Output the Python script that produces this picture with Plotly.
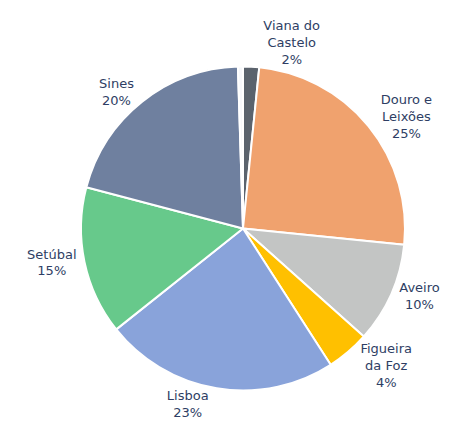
import plotly.graph_objects as go

# Slices clockwise from 12 o'clock
labels = ["Viana do Castelo", "Douro e Leixões", "Aveiro", "Figueira da Foz",
          "Lisboa", "Setúbal", "Sines", "Outros"]
display = ["Viana do<br>Castelo", "Douro e<br>Leixões", "Aveiro", "Figueira<br>da Foz",
           "Lisboa", "Setúbal", "Sines", ""]
values = [1.6, 25.0, 10.0, 4.3, 23.4, 14.8, 20.4, 0.5]
pct_text = ["2%", "25%", "10%", "4%", "23%", "15%", "20%", ""]
colors = ["#5B636D", "#F0A26E", "#C3C5C4", "#FFC000", "#89A3DA", "#67C98B", "#6F809F", "#F7F8FB"]

texts = [f"{d}<br>{p}" if d else "" for d, p in zip(display, pct_text)]

font = dict(family="DejaVu Sans", size=13, color="#2E3E64")

fig = go.Figure(go.Pie(
    labels=labels,
    values=values,
    text=texts,
    textinfo="text",
    textposition="outside",
    sort=False,
    direction="clockwise",
    rotation=0,
    automargin=False,
    domain=dict(x=[0.1594, 0.8668], y=[0.1267, 0.8664]),
    marker=dict(colors=colors, line=dict(color="white", width=2)),
    textfont=font,
    outsidetextfont=font,
    showlegend=False,
    hoverinfo="label+percent",
))

fig.update_layout(
    width=458, height=438,
    margin=dict(l=0, r=0, t=0, b=0),
    paper_bgcolor="white",
    plot_bgcolor="white",
)

fig.write_html("out.html")
